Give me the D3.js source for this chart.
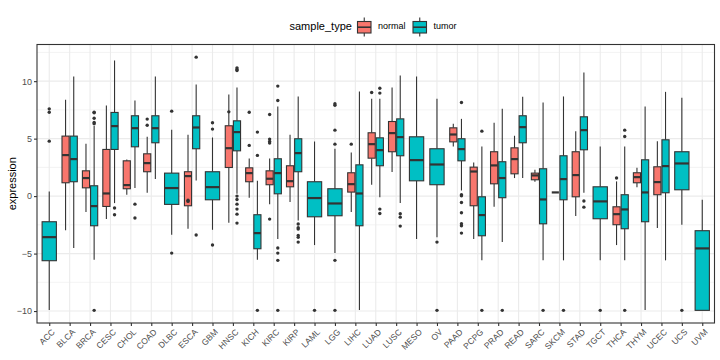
<!DOCTYPE html>
<html><head><meta charset="utf-8">
<script src="https://cdn.jsdelivr.net/npm/d3@7"></script>
<style>body{margin:0;background:#fff}svg{display:block;font-family:"Liberation Sans",Arial,sans-serif}</style>
</head><body><svg id="c" width="720" height="360"></svg>
<script>
const categories = ["ACC","BLCA","BRCA","CESC","CHOL","COAD","DLBC","ESCA","GBM","HNSC","KICH","KIRC","KIRP","LAML","LGG","LIHC","LUAD","LUSC","MESO","OV","PAAD","PCPG","PRAD","READ","SARC","SKCM","STAD","TGCT","THCA","THYM","UCEC","UCS","UVM"];
const groups = ["normal","tumor"];
const groupColors = ["#F8766D","#00BFC4"];
const yTicks = [-10,-5,0,5,10];
// [lower whisker, q1, median, q3, upper whisker], aligned with categories
const normalStats = [
 null,[-2.96,1.16,3.57,5.22,8.38],[-1.39,0.72,1.57,2.20,4.55],[-2.0,-0.90,0.23,4.06,7.88],[0.12,0.64,0.96,3.07,3.19],
 [0.29,2.12,2.87,3.68,5.16],null,[-2.84,-0.84,1.74,2.12,5.33],null,[-2.32,2.49,4.17,6.12,8.84],
 [-0.14,1.25,2.0,2.46,3.28],[-0.70,0.99,1.51,2.20,3.28],[-0.52,0.81,1.30,2.64,5.33],null,null,
 [-1.39,0.35,1.04,2.03,3.80],[0.99,3.30,4.52,5.51,8.46],[2.09,3.86,5.48,6.49,9.45],null,null,
 [4.32,4.72,5.36,5.94,6.29],[-3.74,-0.84,2.14,2.52,2.93],[-0.93,1.07,2.67,3.86,6.38],[1.57,1.94,3.22,4.20,5.25],[1.25,1.42,1.80,2.0,2.29],
 [0.32,0.32,0.32,0.32,0.32],[-1.74,-0.06,1.83,3.86,5.65],null,[-4.26,-2.49,-1.57,-0.93,1.28],[0.78,1.16,1.65,2.03,2.46],
 [-2.78,0.12,1.22,2.55,4.78],null,null];
const tumorStats = [
 [-9.9,-5.62,-3.57,-2.23,0.41],[-4.52,1.25,3.22,5.22,10.41],[-5.54,-2.58,-0.87,0.90,6.1],[-0.61,4.06,6.09,7.28,11.8],[0.70,4.29,5.91,6.99,8.32],
 [1.48,4.64,5.91,6.99,10.41],[-3.36,-0.72,0.70,2.0,5.77],[1.36,4.12,5.97,6.99,9.71],[-2.93,-0.32,0.78,2.12,5.10],[0.2,3.94,5.57,6.55,9.45],
 [-5.54,-4.58,-3.22,-1.62,1.33],[-3.74,0.20,2.0,3.25,7.80],[-2.12,2.12,3.74,4.99,8.67],[-4.26,-1.80,-0.17,1.25,4.75],[-4.96,-1.71,-0.64,0.64,4.12],
 [-9.91,-2.58,0.23,2.72,9.10],[-0.09,2.64,4.0,5.07,8.46],[-0.61,3.51,5.13,6.72,10.49],[-3.74,1.33,3.13,5.16,10.41],[-3.57,0.99,2.75,4.12,8.46],
 [0.49,3.07,4.09,4.99,6.72],[-5.59,-3.45,-1.65,-0.06,4.32],[-4.0,-0.14,1.57,2.99,7.59],[1.57,4.64,6.0,6.99,8.64],[-5.59,-2.41,-0.29,2.38,8.14],
 [-5.59,-0.32,1.48,3.51,8.67],[0.29,4.03,5.74,6.90,10.75],[-5.59,-1.97,-0.46,0.81,4.32],[-5.59,-2.84,-1.16,0.12,4.32],[-9.91,-2.23,0.32,3.16,7.80],
 [-5.59,0.29,2.61,4.90,9.07],[-2.49,0.55,2.84,3.86,8.55],[-9.94,-9.94,-4.55,-3.01,-0.32]];
const normalOutliers = {COAD:[6.70,6.17],ESCA:[-0.35,-0.46],HNSC:[7.33],KICH:[7.30,4.41],KIRC:[7.10,4.96,4.75,4.61,-2.0],LIHC:[4.52],LUAD:[9.01],THCA:[1.57]};
const tumorOutliers = {ACC:[7.59,7.30,4.78],BRCA:[7.30,7.25,6.78,6.41,6.29,-9.94],CESC:[-1.04,-1.62],CHOL:[-0.70,-1.91],DLBC:[7.39,-4.96],
 ESCA:[12.09,-3.39],GBM:[6.38,5.83,-4.26],HNSC:[11.16,11.01,10.93,0,-0.29,-0.70,-1.13,-1.57,-2.35],KICH:[5.57,3.54,-9.94],
 KIRC:[9.57,8.32,-4.52,-4.96,-5.59,-9.94],KIRP:[-2.43,-2.75,-2.87,-3.42,-3.59,-4.0],LAML:[-9.94],LGG:[8.03,7.91,5.74,4.52,-5.59,-9.94],
 LUAD:[9.39,8.96,-1.13,-1.51],LUSC:[-1.54,-1.83,-2.61],OV:[-4.0,-9.94],PAAD:[8.14,0.12,0.03,-0.55,-1.45,-2.41,-2.58,-3.22],
 PCPG:[5.65,-9.94],PRAD:[-9.94],SARC:[-9.94],SKCM:[-9.94],STAD:[-0.43,-0.96],TGCT:[-9.94],THCA:[5.74,5.19,-9.94],UCS:[-9.94]};

const svg = d3.select("#c");
const P = {l:37, r:714.5, t:44.5, b:323};
const x = d3.scalePoint().domain(categories).range([P.l,P.r]).padding(0.6);
const y = d3.scaleLinear().domain([-11.04,13.19]).range([P.b,P.t]);
const step = x.step();

svg.append("rect").attr("x",P.l).attr("y",P.t).attr("width",P.r-P.l).attr("height",P.b-P.t).attr("fill","#fff");
const grid = svg.append("g");
[-7.5,-2.5,2.5,7.5,12.5].forEach(v=>grid.append("line").attr("x1",P.l).attr("x2",P.r).attr("y1",y(v)).attr("y2",y(v)).attr("stroke","#EBEBEB").attr("stroke-width",0.6));
yTicks.forEach(v=>grid.append("line").attr("x1",P.l).attr("x2",P.r).attr("y1",y(v)).attr("y2",y(v)).attr("stroke","#EBEBEB").attr("stroke-width",1.1));
categories.forEach(c=>grid.append("line").attr("x1",x(c)).attr("x2",x(c)).attr("y1",P.t).attr("y2",P.b).attr("stroke","#EBEBEB").attr("stroke-width",1.1));

const items = [];
categories.forEach((c,i)=>{
  const n = normalStats[i], t = tumorStats[i];
  const both = n && t;
  if (n) items.push({c, g:0, s:n, cx: x(c) - (both?0.2*step:0), w: (both?0.35:0.7)*step, out: normalOutliers[c]||[]});
  if (t) items.push({c, g:1, s:t, cx: x(c) + (both?0.2*step:0), w: (both?0.35:0.7)*step, out: tumorOutliers[c]||[]});
});
const marks = svg.append("g");
const col = "#333333";
items.forEach(d=>{
  const g = marks.append("g");
  g.append("line").attr("x1",d.cx).attr("x2",d.cx).attr("y1",y(d.s[4])).attr("y2",y(d.s[3])).attr("stroke",col).attr("stroke-width",1.1);
  g.append("line").attr("x1",d.cx).attr("x2",d.cx).attr("y1",y(d.s[1])).attr("y2",y(d.s[0])).attr("stroke",col).attr("stroke-width",1.1);
  g.append("rect").attr("x",d.cx-d.w/2).attr("y",y(d.s[3])).attr("width",d.w).attr("height",Math.max(0,y(d.s[1])-y(d.s[3])))
    .attr("fill",groupColors[d.g]).attr("stroke",col).attr("stroke-width",1.1);
  g.append("line").attr("x1",d.cx-d.w/2).attr("x2",d.cx+d.w/2).attr("y1",y(d.s[2])).attr("y2",y(d.s[2])).attr("stroke",col).attr("stroke-width",2.2);
  d.out.forEach(v=>g.append("circle").attr("cx",d.cx).attr("cy",y(v)).attr("r",1.7).attr("fill",col));
});

svg.append("rect").attr("x",P.l).attr("y",P.t).attr("width",P.r-P.l).attr("height",P.b-P.t).attr("fill","none").attr("stroke","#333").attr("stroke-width",1.1);

// y axis
const ya = svg.append("g").attr("transform",`translate(${P.l},0)`).call(d3.axisLeft(y).tickValues(yTicks).tickSize(3).tickPadding(2).tickFormat(d3.format("d")));
ya.select(".domain").remove();
ya.selectAll("line").attr("stroke","#333").attr("stroke-width",1.1);
ya.selectAll("text").attr("fill","#4D4D4D").attr("font-size",9).attr("font-family","Liberation Sans, Arial, sans-serif");
// x axis
const xa = svg.append("g").attr("transform",`translate(0,${P.b})`).call(d3.axisBottom(x).tickSize(3).tickPadding(2));
xa.select(".domain").remove();
xa.selectAll("line").attr("stroke","#333").attr("stroke-width",1.1);
xa.selectAll("text").attr("fill","#4D4D4D").attr("font-size",8.5).attr("font-family","Liberation Sans, Arial, sans-serif")
  .attr("text-anchor","end").attr("dy",null).attr("y",null)
  .attr("transform","translate(4,8) rotate(-45)").attr("dominant-baseline","middle");

svg.append("text").attr("transform",`translate(13,${(P.t+P.b)/2}) rotate(-90)`).attr("text-anchor","middle").attr("dominant-baseline","middle")
  .attr("font-size",11).attr("fill","#000").text("expression");

// legend
const lg = svg.append("g");
lg.append("text").attr("x",289.5).attr("y",27).attr("dominant-baseline","middle").attr("font-size",11).attr("fill","#000").text("sample_type");
const keyX = [357.5, 413];
groups.forEach((g,i)=>{
  const kx = keyX[i], cx = kx+6.75;
  lg.append("line").attr("x1",cx).attr("x2",cx).attr("y1",17.5).attr("y2",36.5).attr("stroke",col).attr("stroke-width",1.1);
  lg.append("rect").attr("x",kx).attr("y",21.5).attr("width",13.5).attr("height",11.5).attr("fill",groupColors[i]).attr("stroke",col).attr("stroke-width",1.1);
  lg.append("line").attr("x1",kx).attr("x2",kx+13.5).attr("y1",27.2).attr("y2",27.2).attr("stroke",col).attr("stroke-width",1.6);
  lg.append("text").attr("x",kx+20.5).attr("y",27).attr("dominant-baseline","middle").attr("font-size",9).attr("fill","#000").text(g);
});
</script></body></html>
